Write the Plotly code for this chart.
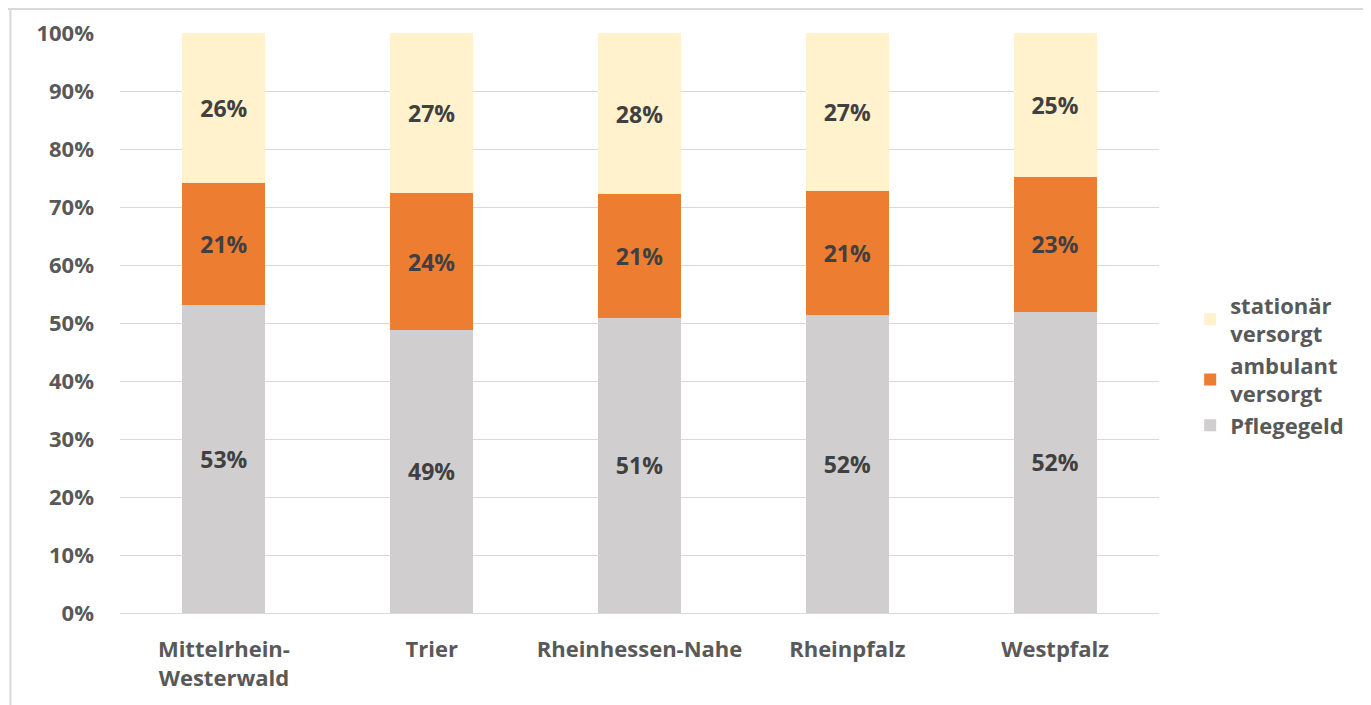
import plotly.graph_objects as go

categories = ["Mittelrhein-<br>Westerwald", "Trier", "Rheinhessen-Nahe", "Rheinpfalz", "Westpfalz"]
pflegegeld = [53.1, 48.8, 50.9, 51.4, 51.9]
ambulant = [21.0, 23.6, 21.3, 21.4, 23.3]
stationaer = [25.9, 27.6, 27.8, 27.2, 24.8]
labels_pflegegeld = ["53%", "49%", "51%", "52%", "52%"]
labels_ambulant = ["21%", "24%", "21%", "21%", "23%"]
labels_stationaer = ["26%", "27%", "28%", "27%", "25%"]
tick_vals = [0, 10, 20, 30, 40, 50, 60, 70, 80, 90, 100]
tick_text = ["0%", "10%", "20%", "30%", "40%", "50%", "60%", "70%", "80%", "90%", "100%"]

FONT = "Open Sans"
SIZE = 22
label_font = dict(family=FONT, size=23, color="#404040")


def bold(items):
    return ["<b>" + s + "</b>" for s in items]


fig = go.Figure()
fig.add_trace(go.Bar(x=categories, y=pflegegeld, name="<b>Pflegegeld</b>", marker_color="#D0CECE",
                     text=bold(labels_pflegegeld), textposition="inside", insidetextanchor="middle",
                     textfont=label_font, textangle=0))
fig.add_trace(go.Bar(x=categories, y=ambulant, name="<b>ambulant<br>versorgt</b>", marker_color="#ED7D31",
                     text=bold(labels_ambulant), textposition="inside", insidetextanchor="middle",
                     textfont=label_font, textangle=0))
fig.add_trace(go.Bar(x=categories, y=stationaer, name="<b>stationär<br>versorgt</b>", marker_color="#FFF2CC",
                     text=bold(labels_stationaer), textposition="inside", insidetextanchor="middle",
                     textfont=label_font, textangle=0))

fig.update_traces(marker_line_width=0, hoverinfo="skip")

fig.update_layout(
    barmode="stack",
    bargap=0.6,
    width=1363, height=697,
    margin=dict(l=112, r=212, t=25, b=92, autoexpand=False),
    paper_bgcolor="white", plot_bgcolor="white",
    font=dict(family=FONT, size=SIZE, color="#595959"),
    uniformtext=dict(minsize=10, mode=False),
    legend=dict(traceorder="reversed", x=1.03, y=0.567, xanchor="left", yanchor="top",
                font=dict(family=FONT, size=SIZE, color="#595959"), itemwidth=30,
                tracegroupgap=0),
    xaxis=dict(showline=True, linecolor="#D9D9D9", linewidth=1, ticks="", automargin=False,
               tickfont=dict(family=FONT, size=SIZE, color="#595959"), fixedrange=True,
               tickvals=categories, ticktext=bold(categories), ticklabelstandoff=17),
    yaxis=dict(range=[0, 100], tickvals=tick_vals, ticktext=bold(tick_text), showgrid=True,
               gridcolor="#D9D9D9", gridwidth=1, zeroline=False, ticks="", ticklen=0,
               automargin=False,
               tickfont=dict(family=FONT, size=SIZE, color="#595959"), fixedrange=True,
               ticklabelstandoff=25),
    shapes=[
        dict(type="line", xref="paper", yref="paper", x0=-0.111, x1=1.3, y0=1.0413, y1=1.0413,
             line=dict(color="#D9D9D9", width=2)),
        dict(type="line", xref="paper", yref="paper", x0=-0.1055, x1=-0.1055, y0=-0.2, y1=1.0413,
             line=dict(color="#D9D9D9", width=2)),
    ],
)

fig.write_html("out.html")
